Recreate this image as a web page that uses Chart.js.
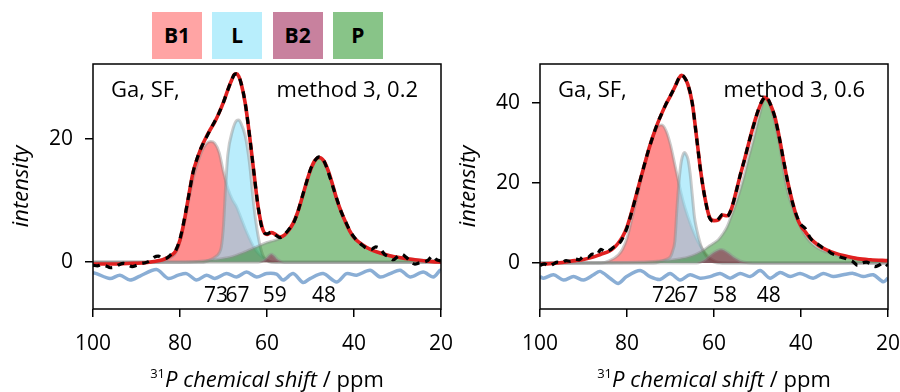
<!DOCTYPE html>
<html>
<head>
<meta charset="utf-8">
<script src="https://cdn.jsdelivr.net/npm/chart.js@4.4.1/dist/chart.umd.min.js"></script>
<style>
  body { margin: 0; width: 900px; height: 392px; background: #fff; position: relative; overflow: hidden; font-family: 'Open Sans', sans-serif; }
  .panel { position: absolute; top: 0; height: 392px; }
  .xtitle { position: absolute; top: 363px; width: 348px; text-align: center; font-size: 22px; line-height: 30px; color: #000; }
  .xtitle sup { font-size: 13px; vertical-align: 9px; line-height: 0; }
  #legend { position: absolute; left: 152px; top: 12px; display: flex; gap: 10.3px; }
  #legend div { width: 50px; height: 47px; line-height: 47px; text-align: center; font-weight: bold; font-size: 21px; color: #000; }
</style>
</head>
<body>
<div id="legend"></div>
<div class="panel" style="left:0;width:470px"><canvas id="leftChart" width="470" height="392"></canvas></div>
<div class="panel" style="left:450px;width:450px"><canvas id="rightChart" width="450" height="392"></canvas></div>
<div class="xtitle" style="left:93px"><sup>31</sup><i>P chemical shift</i> / ppm</div>
<div class="xtitle" style="left:540px"><sup>31</sup><i>P chemical shift</i> / ppm</div>
<script>
// legend
const legendLabels = ["B1", "L", "B2", "P"];
const legendColors = ["#ffa4a4", "#b8eefc", "#c8819e", "#88c488"];
const fillColors = ["rgba(255,50,50,0.55)", "rgba(140,225,250,0.6)", "rgba(150,30,80,0.55)", "rgba(30,140,30,0.5)"];

// axes
const xTicks = [100, 80, 60, 40, 20];
const leftYTicks = [0, 20];
const rightYTicks = [0, 20, 40];
const leftYRange = [-7.6, 32.2];
const rightYRange = [-11.5, 49.75];

// text
const leftNotes = ["Ga, SF,", "method 3, 0.2"];
const rightNotes = ["Ga, SF,", "method 3, 0.6"];
const leftPeakText = ["73", "67", "59", "48"];
const leftPeakPos = [71.7, 66.8, 58.2, 46.9];
const rightPeakText = ["72", "67", "58", "48"];
const rightPeakPos = [71.5, 66.4, 57.5, 47.4];

// left panel (0.2), [ppm, intensity]
const leftB1 = [[100,0],[86,0],[84,0.2],[82,0.8],[81,1.5],[80,3.4],[79,6.4],[78,10.0],[77,13.5],[76,16.0],[75,18.0],[74,19.2],[73,19.6],[72,19.3],[71,17.8],[70,14.6],[69,12.0],[68,10.2],[67,9.0],[66,7.2],[65,5.4],[64,3.8],[63,2.4],[62,1.4],[61,0.8],[60,0.3],[58,0],[20,0]];
const leftL = [[100,0],[75,0],[73,0.4],[72,0.8],[71,1.5],[70.5,2.5],[70,6.0],[69.5,12.5],[69,17.5],[68,21.2],[67,23.0],[66.5,23.1],[66,22.6],[65,20.5],[64,16.0],[63,9.0],[62,4.1],[61,1.2],[60,0.3],[59,0],[20,0]];
const leftB2 = [[100,0],[62,0],[60.5,0.4],[59.5,1.1],[59,1.3],[58.5,1.1],[57.5,0.4],[56,0],[20,0]];
const leftP = [[100,0],[80,0],[76,0.1],[72,0.4],[68,0.9],[66,1.4],[64,2.0],[62,2.6],[60,3.2],[59,3.4],[58,3.6],[57,3.9],[56,4.4],[55,5.2],[54,6.3],[53,8.0],[52,10.2],[51,12.6],[50,14.8],[49,16.4],[48,17.0],[47,16.5],[46,15.0],[45,12.8],[44,10.4],[43,8.3],[42,6.6],[41,5.2],[40,4.1],[38,2.8],[36,2.0],[34,1.5],[32,1.1],[30,0.8],[26,0.45],[22,0.25],[20,0.2]];
const leftFit = [[100,-0.3],[96,-0.3],[92,-0.2],[88,-0.1],[86,0.1],[84,0.4],[83,0.7],[82,1.1],[81,1.8],[80,3.6],[79,6.8],[78,10.8],[77,14.6],[76,16.9],[75,18.8],[74,20.3],[73,21.6],[72,22.8],[71,24.3],[70,26.0],[69,28.0],[68,29.8],[67.5,30.5],[67,30.6],[66.5,30.2],[66,29.2],[65,25.8],[64,20.5],[63,14.5],[62,8.8],[61,5.4],[60,4.5],[59,4.8],[58,4.5],[57,4.1],[56,4.4],[55,5.2],[54,6.3],[53,8.0],[52,10.3],[51,12.8],[50,15.0],[49,16.5],[48,17.0],[47,16.5],[46,15.0],[45,12.8],[44,10.3],[43,8.3],[42,6.6],[41,5.1],[40,4.0],[38,2.8],[36,2.0],[34,1.5],[32,1.1],[30,0.8],[26,0.4],[22,0.1],[20,0.0]];
const leftData = [[100,-0.5],[99,-0.6],[98,-0.4],[97,-0.6],[96,-0.9],[95,-0.8],[94,-0.4],[93,-0.2],[92,-0.4],[91,-0.7],[90,-0.5],[89,-0.2],[88,-0.1],[87,0.2],[86,0.8],[85,1.0],[84,0.6],[83,0.7],[82,1.3],[81,1.9],[80,3.8],[79,7.0],[78,10.8],[77,14.6],[76,17.0],[75,18.8],[74,20.2],[73,21.6],[72,22.9],[71,24.3],[70,26.0],[69,28.0],[68,29.8],[67.5,30.5],[67,30.6],[66,29.2],[65,25.8],[64,20.5],[63,14.5],[62,8.8],[61,5.2],[60,4.6],[59,4.9],[58,4.4],[57,4.0],[56,4.5],[55,5.3],[54,6.2],[53,8.0],[52,10.4],[51,12.8],[50,15.1],[49,16.5],[48,17.1],[47,16.6],[46,14.8],[45,12.6],[44,10.4],[43,8.3],[42,6.7],[41,5.2],[40,4.1],[39,3.3],[38,2.7],[37,2.2],[36,2.1],[35,2.5],[34,2.2],[33,1.3],[32,0.9],[31,0.4],[30,0.9],[29,1.3],[28,0.8],[27,0.1],[26,-0.3],[25,-0.1],[24,0.0],[23,0.3],[22,1.0],[21,0.4],[20,0.2]];
const leftResid = [[100,-1.7],[99.2,-1.85],[96.1,-2.65],[93.8,-2.1],[91.5,-2.9],[89.2,-2.25],[85.4,-1.2],[82.7,-2.65],[80.4,-2.1],[78.5,-1.85],[76.2,-2.9],[73.9,-2.1],[72.0,-2.65],[69.3,-1.85],[67.0,-2.4],[64.7,-1.6],[62.4,-2.4],[60.1,-1.85],[57.8,-1.95],[56.3,-2.9],[54.0,-1.85],[51.7,-3.3],[50.1,-2.65],[47.1,-1.85],[44.0,-3.2],[41.7,-1.85],[39.4,-2.1],[36.3,-1.3],[34.0,-2.4],[31.7,-1.85],[29.4,-1.3],[27.1,-2.4],[24.1,-1.6],[21.8,-2.4],[20.2,-1.3],[20,-1.4]];

// right panel (0.6), [ppm, intensity]
const rightB1 = [[100,0],[86,0],[84,0.6],[82,2.0],[81,3.5],[80,6.2],[79,10.5],[78,15.0],[77,19.8],[76,24.5],[75,28.8],[74,32.0],[73,34.0],[72,34.5],[71,33.0],[70,29.5],[69,24.5],[68,19.5],[67,15.0],[66,11.5],[65,8.5],[64,6.0],[63,4.0],[62,2.4],[61,1.3],[60,0.6],[59,0.2],[57,0],[20,0]];
const rightL = [[100,0],[74,0],[72,0.5],[71,0.9],[70,1.6],[69.5,3.0],[69,5.5],[68.5,14.0],[68,21.0],[67.5,25.5],[67,27.4],[66.75,27.6],[66.5,27.3],[66,26.0],[65.5,22.5],[65,17.0],[64.5,11.5],[64,8.5],[63.5,6.2],[63,4.3],[62,2.0],[61,0.8],[60,0.2],[59,0],[20,0]];
const rightB2 = [[100,0],[64,0],[63,0.3],[62,0.9],[61,1.8],[60,2.6],[59,3.2],[58.5,3.35],[58,3.3],[57,2.7],[56,1.9],[55,1.1],[54,0.5],[53,0.2],[51,0],[20,0]];
const rightP = [[100,0],[80,0.1],[72,0.5],[68,1.0],[65,1.8],[63,2.8],[62,3.5],[61,4.3],[60,5.0],[59,5.8],[58,7.2],[57,9.0],[56,11.8],[55,14.8],[54,18.2],[53,22.0],[52,26.5],[51,30.5],[50,35.0],[49,39.2],[48.5,41.0],[48,41.2],[47,39.0],[46,35.0],[45,30.0],[44,23.0],[43,17.5],[42,14.0],[41,11.2],[40,8.8],[39,6.8],[38,5.4],[36,3.6],[34,2.7],[32,2.0],[30,1.4],[26,0.8],[22,0.5],[20,0.4]];
const rightFit = [[100,-0.3],[96,0.0],[92,0.6],[90,0.9],[88,1.4],[86,2.2],[84,3.0],[83,3.8],[82,5.0],[81,6.6],[80,9.0],[79,12.5],[78,16.5],[77,20.6],[76,24.5],[75,28.4],[74,31.8],[73,34.8],[72,37.4],[71,39.8],[70,41.8],[69,44.0],[68,46.3],[67.5,46.9],[67,46.6],[66.5,45.8],[66,44.6],[65,40.0],[64,31.4],[63,22.5],[62,15.8],[61,11.4],[60,10.6],[59,10.8],[58,12.0],[57,11.8],[56,13.5],[55,17.5],[54,21.8],[53,25.8],[52,30.0],[51,34.1],[50,37.6],[49,40.3],[48.3,41.4],[47.5,40.6],[47,39.6],[46,36.5],[45,31.5],[44,25.5],[43,20.0],[42,15.4],[41,11.6],[40,9.2],[39,7.8],[38,6.3],[37,5.3],[36,4.4],[34,3.2],[32,2.4],[30,1.8],[27,1.1],[24,0.8],[20,0.6]];
const rightData = [[100,-0.6],[99,-0.2],[98,-0.8],[97,-0.3],[96,0.2],[95,0.1],[94,0.6],[93,0.4],[92,1.0],[91,0.8],[90,1.6],[89,1.4],[88,2.2],[87,2.0],[86,3.4],[85,2.8],[84,3.2],[83,4.0],[82,4.6],[81,6.2],[80,8.8],[79,12.4],[78,16.4],[77,20.6],[76,24.6],[75,28.4],[74,31.8],[73,34.9],[72,37.4],[71,39.8],[70,41.9],[69,44.0],[68,46.4],[67.5,47.0],[67,46.7],[66,44.6],[65,40.0],[64,31.3],[63,22.4],[62,15.8],[61,11.2],[60,10.4],[59,11.0],[58,12.2],[57,11.6],[56,13.6],[55,17.4],[54,21.9],[53,25.8],[52,30.1],[51,34.0],[50,37.7],[49,40.4],[48,41.6],[47,39.6],[46,36.4],[45,31.4],[44,25.6],[43,20.0],[42,15.3],[41,11.8],[40,9.6],[39,8.6],[38,6.5],[37,5.2],[36,4.6],[35,3.8],[34,3.3],[33,2.4],[32,2.0],[31,1.5],[30,1.2],[29,0.8],[28,0.3],[27,-0.6],[26,0.0],[25,0.2],[24,-0.2],[23,-0.9],[22,-0.5],[21,0.1],[20,-0.7]];
const rightResid = [[100,-3.4],[99.2,-3.8],[96.9,-2.95],[94.6,-4.25],[92.3,-3.4],[90.0,-4.25],[87.7,-2.95],[86.2,-2.1],[83.9,-3.8],[82.0,-5.1],[80.1,-3.4],[77.0,-1.9],[74.7,-3.4],[72.4,-4.1],[70.1,-2.6],[67.8,-4.25],[65.5,-2.95],[63.2,-3.8],[60.9,-3.4],[58.6,-2.6],[56.3,-3.8],[54.0,-2.6],[51.7,-3.4],[49.4,-1.9],[47.1,-3.8],[44.8,-2.4],[42.5,-3.4],[40.2,-2.6],[37.2,-3.8],[34.9,-2.6],[32.6,-3.4],[30.3,-2.95],[28.0,-2.6],[25.7,-3.4],[23.4,-2.95],[21.1,-4.7],[20.0,-3.8]];

document.getElementById("legend").innerHTML = legendLabels
  .map((label, i) => `<div style="background:${legendColors[i]}">${label}</div>`)
  .join("");

Chart.defaults.font.family = "'Open Sans', sans-serif";
Chart.defaults.color = "#000";

const framePlugin = {
  id: "frame",
  afterDraw(chart) {
    const { ctx, chartArea: a } = chart;
    ctx.save();
    ctx.strokeStyle = "#000";
    ctx.lineWidth = 1.5;
    ctx.strokeRect(a.left, a.top, a.right - a.left, a.bottom - a.top);
    ctx.restore();
  },
};

const notesPlugin = {
  id: "notes",
  afterDatasetsDraw(chart, args, opts) {
    const { ctx, chartArea: a } = chart;
    const xScale = chart.scales.x;
    ctx.save();
    ctx.fillStyle = "#000";
    ctx.font = "22px 'Open Sans', sans-serif";
    ctx.textBaseline = "alphabetic";
    ctx.textAlign = "left";
    ctx.fillText(opts.texts[0], a.left + 18, a.top + 33);
    ctx.textAlign = "right";
    ctx.fillText(opts.texts[1], a.right - 23, a.top + 33);
    ctx.font = "21px 'Open Sans', sans-serif";
    ctx.textAlign = "center";
    opts.peakText.forEach((t, i) => {
      ctx.fillText(t, xScale.getPixelForValue(opts.peakPos[i]), a.bottom - 7);
    });
    ctx.restore();
  },
};

function makeChart(id, p) {
  const comps = [p.b1, p.l, p.b2, p.p];
  const compOrder = [6, 5, 3, 4];
  const datasets = [
    { data: p.data, borderColor: "#000", borderWidth: 3.2, borderDash: [7, 6], order: 0 },
    { data: p.fit, borderColor: "#e02020", borderWidth: 3.6, order: 1 },
    { data: p.resid, borderColor: "rgba(60,120,185,0.6)", borderWidth: 3.5, order: 2, cubicInterpolationMode: "default", tension: 0.3 },
  ];
  comps.forEach((c, i) => {
    datasets.push({
      data: c,
      borderColor: "rgba(140,140,140,0.45)",
      borderWidth: 3,
      backgroundColor: fillColors[i],
      fill: "origin",
      order: compOrder[i],
    });
  });

  new Chart(document.getElementById(id), {
    type: "line",
    data: { datasets },
    plugins: [framePlugin, notesPlugin],
    options: {
      responsive: false,
      animation: false,
      events: [],
      layout: { padding: { left: 0, right: p.rightPad, top: 64, bottom: 0 } },
      elements: {
        point: { radius: 0 },
        line: { cubicInterpolationMode: "monotone" },
      },
      scales: {
        x: {
          type: "linear",
          reverse: true,
          min: 20,
          max: 100,
          afterBuildTicks: (axis) => { axis.ticks = xTicks.map((v) => ({ value: v })); },
          afterFit: (axis) => {
            axis.height = 83;
            axis.paddingLeft = 0;
            axis.paddingRight = 0;
          },
          border: { display: false },
          grid: { drawOnChartArea: false, drawTicks: true, tickLength: 8, color: "#000", lineWidth: 1.5 },
          ticks: { font: { size: 21 }, padding: 14, maxRotation: 0, autoSkip: false },
        },
        y: {
          min: p.yRange[0],
          max: p.yRange[1],
          afterBuildTicks: (axis) => { axis.ticks = p.yTicks.map((v) => ({ value: v })); },
          afterFit: (axis) => { axis.width = p.yWidth; },
          border: { display: false },
          grid: { drawOnChartArea: false, drawTicks: true, tickLength: 8, color: "#000", lineWidth: 1.5 },
          ticks: { font: { size: 21 }, padding: 12 },
          title: {
            display: true,
            text: "intensity",
            font: { size: 22, style: "italic" },
            padding: { top: p.titlePad, bottom: 0 },
          },
        },
      },
      plugins: {
        legend: { display: false },
        tooltip: { enabled: false },
        notes: { texts: p.notes, peakText: p.peakText, peakPos: p.peakPos },
      },
    },
  });
}

makeChart("leftChart", {
  b1: leftB1, l: leftL, b2: leftB2, p: leftP,
  fit: leftFit, data: leftData, resid: leftResid,
  yRange: leftYRange, yTicks: leftYTicks,
  notes: leftNotes, peakText: leftPeakText, peakPos: leftPeakPos,
  yWidth: 93, rightPad: 29, titlePad: 9,
});

makeChart("rightChart", {
  b1: rightB1, l: rightL, b2: rightB2, p: rightP,
  fit: rightFit, data: rightData, resid: rightResid,
  yRange: rightYRange, yTicks: rightYTicks,
  notes: rightNotes, peakText: rightPeakText, peakPos: rightPeakPos,
  yWidth: 90, rightPad: 12, titlePad: 6,
});
</script>
</body>
</html>
